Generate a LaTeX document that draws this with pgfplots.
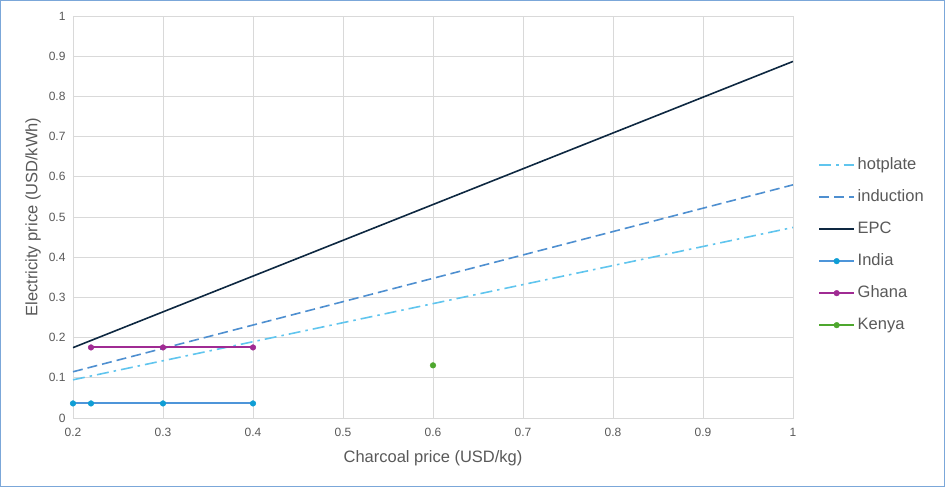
\documentclass[border=0pt]{standalone}
\usepackage{pgfplots}
\pgfplotsset{compat=1.18}
\usepackage{fontspec}
\setmainfont{Liberation Sans}
\definecolor{bordercol}{HTML}{7BA7D9}
\definecolor{gridcol}{HTML}{D9D9D9}
\definecolor{txtcol}{HTML}{595959}
\definecolor{hotcol}{HTML}{60C5EE}
\definecolor{indcol}{HTML}{4E8FD0}
\definecolor{epccol}{HTML}{0E2841}
\definecolor{indialine}{HTML}{4E95D9}
\definecolor{indiamark}{HTML}{0F9ED5}
\definecolor{ghanacol}{HTML}{A02B93}
\definecolor{kenyacol}{HTML}{4EA72E}
\begin{document}
\begin{tikzpicture}
\draw[bordercol, line width=1.3pt] (0.65pt,0.65pt) rectangle (944.35pt,486.35pt);
\begin{axis}[
  at={(73pt,69pt)}, anchor=south west,
  width=720pt, height=402pt, scale only axis,
  xmin=0.2, xmax=1, ymin=0, ymax=1,
  xtick={0.2,0.3,0.4,0.5,0.6,0.7,0.8,0.9,1},
  xticklabels={0.2,0.3,0.4,0.5,0.6,0.7,0.8,0.9,1},
  ytick={0,0.1,0.2,0.3,0.4,0.5,0.6,0.7,0.8,0.9,1},
  yticklabels={0,0.1,0.2,0.3,0.4,0.5,0.6,0.7,0.8,0.9,1},
  major tick length=0pt,
  grid=major,
  grid style={gridcol, line width=0.8pt},
  axis line style={gridcol, line width=0.8pt},
  tick label style={font=\fontsize{12}{14}\selectfont, text=txtcol},
  xticklabel style={yshift=-7pt},
  yticklabel style={xshift=-4pt},
  xlabel={Charcoal price (USD/kg)},
  ylabel={Electricity price (USD/kWh)},
  label style={font=\fontsize{16.5}{19}\selectfont, text=txtcol},
  xlabel style={at={(axis description cs:0.5,0)}, anchor=center, yshift=-40pt},
  ylabel style={at={(axis description cs:0,0.5)}, anchor=center, rotate=0, yshift=40pt},
  legend style={draw=none, fill=none, at={(axis description cs:1.0347,0.43)}, anchor=west,
    font=\fontsize{16.5}{19}\selectfont, text=txtcol, inner sep=0pt,
    row sep=18pt, nodes={inner sep=0pt, inner xsep=2.5pt, text height=11pt, text depth=3pt}},
  legend cell align=left,
  legend image code/.code={\draw[mark repeat=2,mark phase=2,#1] plot coordinates {(0pt,0pt) (17.5pt,0pt) (35pt,0pt)};},
]
\addplot[color=hotcol, line width=1.6pt, dash pattern=on 12pt off 5pt on 2.5pt off 5pt] coordinates {(0.2,0.095) (1,0.474)};
\addlegendentry{hotplate}
\addplot[color=indcol, line width=1.6pt, dash pattern=on 10pt off 5pt] coordinates {(0.2,0.115) (1,0.580)};
\addlegendentry{induction}
\addplot[color=epccol, line width=1.6pt] coordinates {(0.2,0.175) (1,0.887)};
\addlegendentry{EPC}
\addplot[color=indialine, line width=2pt, mark=*, mark size=2.8pt, mark options={solid, fill=indiamark, draw=indiamark, line width=0.5pt}] coordinates {(0.2,0.0362) (0.22,0.0362) (0.3,0.0362) (0.4,0.0362)};
\addlegendentry{India}
\addplot[color=ghanacol, line width=2pt, mark=*, mark size=2.8pt, mark options={solid, fill=ghanacol, draw=ghanacol, line width=0.5pt}] coordinates {(0.22,0.1755) (0.3,0.1755) (0.4,0.1755)};
\addlegendentry{Ghana}
\addplot[color=kenyacol, line width=2pt, mark=*, mark size=2.8pt, mark options={solid, fill=kenyacol, draw=kenyacol, line width=0.5pt}] coordinates {(0.6,0.131)};
\addlegendentry{Kenya}
\end{axis}
\end{tikzpicture}
\end{document}
